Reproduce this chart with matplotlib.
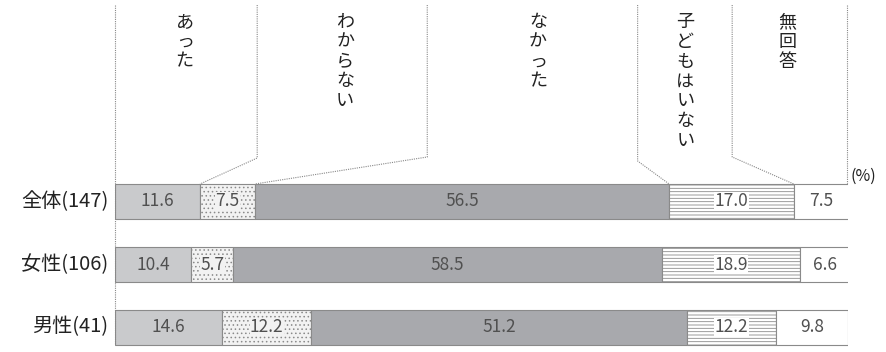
import matplotlib.pyplot as plt
import numpy as np

plt.rcParams['font.family'] = ['Noto Sans CJK JP', 'DejaVu Sans']
plt.rcParams['hatch.linewidth'] = 0.6

# data
groups = ['全体(147)', '女性(106)', '男性(41)']
answers = ['あった', 'わからない', 'なかった', '子どもはいない', '無回答']
values = np.array([
    [11.6, 7.5, 56.5, 17.0, 7.5],
    [10.4, 5.7, 58.5, 18.9, 6.6],
    [14.6, 12.2, 51.2, 12.2, 9.8],
])

faces = ['#c9cacc', '#f2f2f2', '#a8a9ad', '#ffffff', '#ffffff']
hatches = [None, '....', None, '-----', None]

W, H = 887, 352
fig = plt.figure(figsize=(W / 100, H / 100), dpi=100)
# axes: x in percent, y in pixel rows (top = 0)
x0, x1 = 115, 848
ax = fig.add_axes([x0 / W, 0, (x1 - x0) / W, 1])
ax.set_xlim(0, 100)
ax.set_ylim(H, 0)
ax.axis('off')

bar_y = [201.5, 264.5, 327]
bar_h = 35

for r, yc in enumerate(bar_y):
    left = 0
    for c, v in enumerate(values[r]):
        ax.barh(yc, v, left=left, height=bar_h, color=faces[c],
                edgecolor='#8a8a8a', linewidth=0.8, hatch=hatches[c])
        ax.text(left + v / 2, yc, f'{v:.1f}', ha='center', va='center',
                fontsize=12.5, color='#505050',
                bbox=dict(facecolor=faces[c], edgecolor='none', pad=0.3) if hatches[c] else None)
        left += v
    ax.text(-0.9, yc, groups[r], ha='right', va='center', fontsize=14.5,
            color='#222222', clip_on=False)

# left axis line
ax.plot([0, 0], [5, 345], color='#888888', lw=0.8, ls=(0, (1, 1)), clip_on=False)

# leader lines from headers to boundaries of the top bar
bounds = np.cumsum(values[0])
top_bar = bar_y[0] - bar_h / 2
line_x = [19.4, 42.6, 71.3, 84.2]
line_bot = [158, 157, 161, 157]
for lx, lb, b in zip(line_x, line_bot, bounds[:4]):
    ax.plot([lx, lx, b], [5, lb, top_bar], color='#888888', lw=0.8,
            ls=(0, (1, 1)), clip_on=False)
ax.plot([99.9, 99.9], [5, top_bar], color='#888888', lw=0.8,
        ls=(0, (1, 1)), clip_on=False)

# vertical header labels
label_x = [9.5, 31.4, 57.7, 77.8, 91.7]
for lab, lx in zip(answers, label_x):
    ax.text(lx, 13, '\n'.join(lab), ha='center', va='top', fontsize=13,
            linespacing=1.13, color='#222222', clip_on=False)

ax.text(100.3, 176, '(%)', ha='left', va='center', fontsize=11.5,
        color='#222222', clip_on=False)

fig.savefig('out.png', dpi=100, facecolor='white')
